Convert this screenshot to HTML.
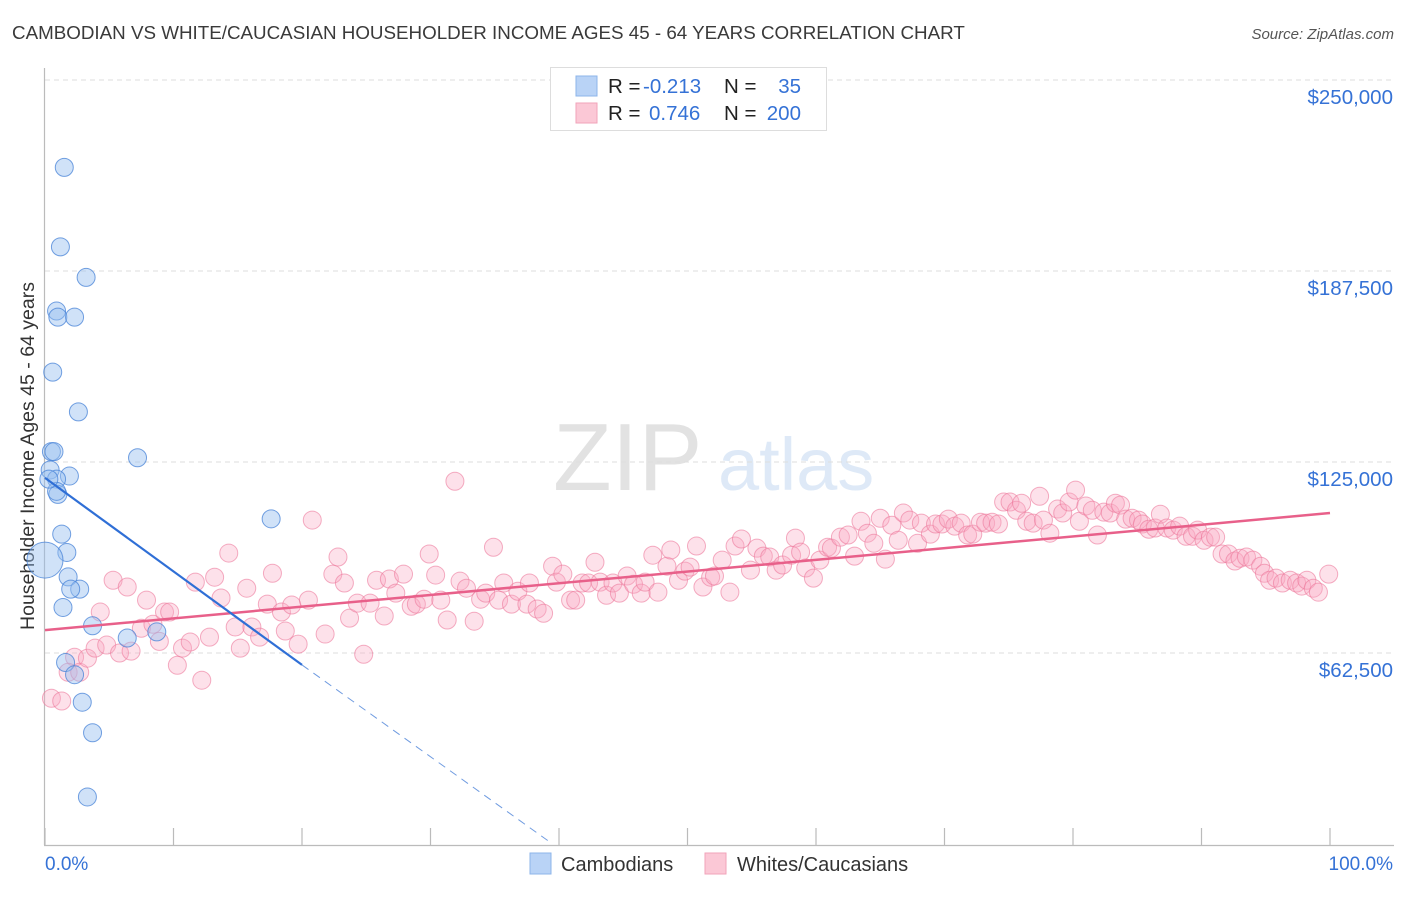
<!DOCTYPE html>
<html><head><meta charset="utf-8"><style>
body{margin:0;background:#fff;font-family:"Liberation Sans",sans-serif;}
svg text{font-family:"Liberation Sans",sans-serif;}
</style></head><body>
<svg id="chart" width="1406" height="892" xmlns="http://www.w3.org/2000/svg">
<text x="12" y="39" font-size="18.8" fill="#3a3a3a">CAMBODIAN VS WHITE/CAUCASIAN HOUSEHOLDER INCOME AGES 45 - 64 YEARS CORRELATION CHART</text>
<text x="1394" y="39" font-size="15" fill="#555" text-anchor="end" font-style="italic">Source: ZipAtlas.com</text>
<text x="553" y="490" font-size="96" fill="#d6d6d6" font-family="Liberation Serif" opacity="0.7">ZIP</text>
<text x="718" y="490" font-size="74" fill="#c9dcf2" opacity="0.6">atlas</text>
<text transform="translate(34,456) rotate(-90)" font-size="19.5" fill="#333" text-anchor="middle">Householder Income Ages 45 - 64 years</text>
<g id="grid"></g><g id="pts"></g><g id="lines"></g>
<g>
<rect x="550.5" y="67.5" width="276" height="63" fill="#fff" stroke="#ddd"/>
<rect x="576" y="76" width="21" height="20" fill="#b9d3f6" stroke="#8db5ea"/>
<rect x="576" y="103" width="21" height="20" fill="#fbc8d6" stroke="#f2a3ba"/>
<text x="608" y="93" font-size="20.5" fill="#222">R =</text>
<text x="643" y="93" font-size="20.5" fill="#3572d6">-0.213</text>
<text x="724" y="93" font-size="20.5" fill="#222">N =</text>
<text x="801" y="93" font-size="20.5" fill="#3572d6" text-anchor="end">35</text>
<text x="608" y="120" font-size="20.5" fill="#222">R =</text>
<text x="649" y="120" font-size="20.5" fill="#3572d6">0.746</text>
<text x="724" y="120" font-size="20.5" fill="#222">N =</text>
<text x="801" y="120" font-size="20.5" fill="#3572d6" text-anchor="end">200</text>
</g>
<g>
<rect x="530" y="853" width="21" height="21" fill="#b9d3f6" stroke="#8db5ea"/>
<text x="561" y="871" font-size="20" fill="#333">Cambodians</text>
<rect x="705" y="853" width="21" height="21" fill="#fbc8d6" stroke="#f2a3ba"/>
<text x="737" y="871" font-size="20" fill="#333">Whites/Caucasians</text>
</g>
</svg>
<script>
const yTicks=[62.5,125,187.5,250];
const yTickLabels=["$62,500","$125,000","$187,500","$250,000"];
const xTickLabels=["0.0%","100.0%"];
const blueX=[1.5,1.2,3.2,0.9,1.0,2.3,0.6,2.6,7.2,0.5,0.7,1.9,0.4,0.9,1.0,0.9,17.6,1.3,1.7,1.8,2.7,2.0,1.4,3.7,6.4,8.7,1.6,2.3,2.9,3.7,3.3,0.3];
const blueY=[221.4,195.4,185.4,174.4,172.4,172.4,154.4,141.4,126.4,128.4,128.4,120.4,122.4,119.4,114.4,115.4,106.4,101.4,95.4,87.4,83.4,83.4,77.4,71.4,67.4,69.4,59.4,55.4,46.4,36.4,15.4,119.4];
const blueBigX=[0];
const blueBigY=[92.9];
const pinkX=[0.5,1.3,2.3,1.8,2.7,3.3,3.9,4.3,4.8,5.3,5.8,6.4,6.7,7.5,7.9,8.4,8.9,9.3,9.7,10.3,10.7,11.7,11.3,12.2,12.8,13.2,13.7,14.3,14.8,15.2,15.7,16.1,16.7,17.3,17.7,18.4,18.7,19.2,19.7,20.5,20.8,21.8,22.4,22.8,23.3,23.7,24.3,24.8,25.3,25.8,26.4,26.8,27.3,27.9,28.5,28.9,29.5,29.9,30.4,30.8,31.3,31.9,32.3,32.8,33.4,33.9,34.3,34.9,35.3,35.7,36.3,36.8,37.5,37.7,38.3,38.8,39.5,39.8,40.3,40.9,41.3,41.8,42.3,42.8,43.2,43.7,44.2,44.7,45.3,45.8,46.4,46.7,47.3,47.7,48.4,48.7,49.3,49.8,50.2,50.7,51.2,51.8,52.1,52.7,53.3,53.7,54.2,54.9,55.4,55.9,56.4,56.9,57.4,58.1,58.4,58.8,59.2,59.8,60.3,60.9,61.2,61.9,62.5,63.0,63.5,64.0,64.5,65.0,65.4,65.9,66.4,66.8,67.3,67.9,68.2,68.9,69.3,69.8,70.3,70.8,71.3,71.8,72.2,72.8,73.2,73.7,74.2,74.6,75.1,75.6,76.0,76.4,76.9,77.4,77.7,78.2,78.8,79.2,79.7,80.2,80.5,81.0,81.5,81.9,82.4,82.9,83.3,83.7,84.1,84.6,85.1,85.4,85.9,86.4,86.8,87.3,87.8,88.3,88.8,89.3,89.7,90.2,90.7,91.1,91.6,92.1,92.6,93.0,93.5,94.0,94.6,94.9,95.3,95.8,96.3,96.9,97.4,97.8,98.2,98.7,99.1,99.9];
const pinkY=[47.7,46.8,61.1,56.2,56.2,60.8,64.1,75.9,65.1,86.3,62.5,84.1,63.1,70.6,79.8,71.9,66.3,75.9,75.9,58.5,64.1,85.7,66.1,53.6,67.7,87.3,80.5,95.2,71.0,64.1,83.7,71.0,67.7,78.5,88.6,75.9,69.7,78.2,65.4,79.8,106.0,68.7,88.3,93.9,85.4,73.9,78.8,62.1,78.8,86.3,74.6,86.7,82.1,88.3,77.8,78.5,80.1,94.9,88.0,79.8,73.3,118.7,86.0,83.7,72.9,80.1,82.1,97.1,79.8,85.4,78.5,82.7,78.5,85.4,76.9,75.5,90.9,85.7,88.3,79.8,79.8,85.4,85.4,92.2,85.7,81.4,85.4,82.1,87.7,85.0,82.1,85.7,94.5,82.4,90.9,96.2,86.3,89.3,90.6,97.5,84.1,87.3,87.7,92.9,82.4,97.5,99.8,89.6,96.8,94.2,93.9,89.6,91.3,94.5,100.1,95.5,90.3,87.0,92.9,97.1,96.8,100.4,101.1,94.2,105.6,101.7,98.4,106.6,93.2,104.3,99.4,108.3,106.0,98.4,105.0,101.4,104.7,104.7,106.3,104.0,105.0,101.1,101.4,105.3,105.0,105.3,104.7,111.9,111.9,109.2,111.5,105.6,105.0,113.8,106.0,101.7,109.6,108.3,111.9,115.8,105.6,110.6,109.2,101.1,108.6,108.3,111.5,110.9,106.3,106.6,106.0,104.7,103.0,103.4,107.9,103.4,102.7,104.0,100.7,100.7,102.7,99.4,100.4,100.4,94.9,94.9,92.6,93.5,93.9,92.9,90.9,88.6,86.3,87.0,85.4,86.3,85.4,84.4,86.3,83.7,82.4,88.3];
const blueTrendX=[0,20,39.5];
const blueTrendY=[119.8,58.6,0];
const pinkTrendX=[0,100];
const pinkTrendY=[70.0,108.3];

const NS="http://www.w3.org/2000/svg";
const X0=45,X1=1330,YB=844,YPX=191/62.5;
const sx=v=>X0+(X1-X0)*v/100;
const sy=v=>YB-v*YPX;
function mk(tag,attrs,parent){const e=document.createElementNS(NS,tag);for(const k in attrs)e.setAttribute(k,attrs[k]);parent.appendChild(e);return e;}
const grid=document.getElementById('grid');
yTicks.forEach((t,i)=>{
  const l=mk('line',{x1:45,x2:1394,y1:sy(t),y2:sy(t),stroke:'#dedede','stroke-dasharray':'5,4'},grid);
  
  
  const tx=mk('text',{x:1393,y:sy(t)+24,'font-size':20.5,fill:'#3572d6','text-anchor':'end'},grid);
  tx.textContent=yTickLabels[i];
  
  
});
const yax=mk('line',{x1:44.5,x2:44.5,y1:68,y2:845,stroke:'#bbb','stroke-width':1.2},grid);


const xax=mk('line',{x1:44,x2:1394,y1:845.5,y2:845.5,stroke:'#bbb','stroke-width':1.2},grid);


for(let i=0;i<=10;i++){
  const tk=mk('line',{x1:sx(i*10),x2:sx(i*10),y1:828,y2:845,stroke:'#bbb','stroke-width':1.2},grid);
  
  
}
const xl0=mk('text',{x:45,y:870,'font-size':19,fill:'#3572d6'},grid);
xl0.textContent=xTickLabels[0];


const xl1=mk('text',{x:1393,y:870,'font-size':19,fill:'#3572d6','text-anchor':'end'},grid);
xl1.textContent=xTickLabels[1];



const pts=document.getElementById('pts');
pinkX.forEach((v,i)=>{
  const c=mk('circle',{cx:sx(v),cy:sy(pinkY[i]),r:9,fill:'rgba(248,170,195,0.35)',stroke:'rgba(236,120,155,0.6)','stroke-width':1},pts);
  
  
});
blueX.forEach((v,i)=>{
  const c=mk('circle',{cx:sx(v),cy:sy(blueY[i]),r:9,fill:'rgba(150,190,240,0.45)',stroke:'rgba(70,130,215,0.75)','stroke-width':1},pts);
  
  
});
blueBigX.forEach((v,i)=>{
  const c=mk('circle',{cx:sx(v),cy:sy(blueBigY[i]),r:18,fill:'rgba(150,190,240,0.45)',stroke:'rgba(70,130,215,0.75)','stroke-width':1},pts);
  
  
});
const lines=document.getElementById('lines');
const pl=mk('line',{x1:sx(pinkTrendX[0]),y1:sy(pinkTrendY[0]),x2:sx(pinkTrendX[1]),y2:sy(pinkTrendY[1]),stroke:'#e8608a','stroke-width':2.5},lines);


const bl=mk('line',{x1:sx(blueTrendX[0]),y1:sy(blueTrendY[0]),x2:sx(blueTrendX[1]),y2:sy(blueTrendY[1]),stroke:'#2f6fd6','stroke-width':2.2},lines);


const bd=mk('line',{x1:sx(blueTrendX[1]),y1:sy(blueTrendY[1]),x2:sx(blueTrendX[2]),y2:sy(blueTrendY[2]),stroke:'#6f9be0','stroke-width':1,'stroke-dasharray':'8,6'},lines);


</script>
</body></html>
